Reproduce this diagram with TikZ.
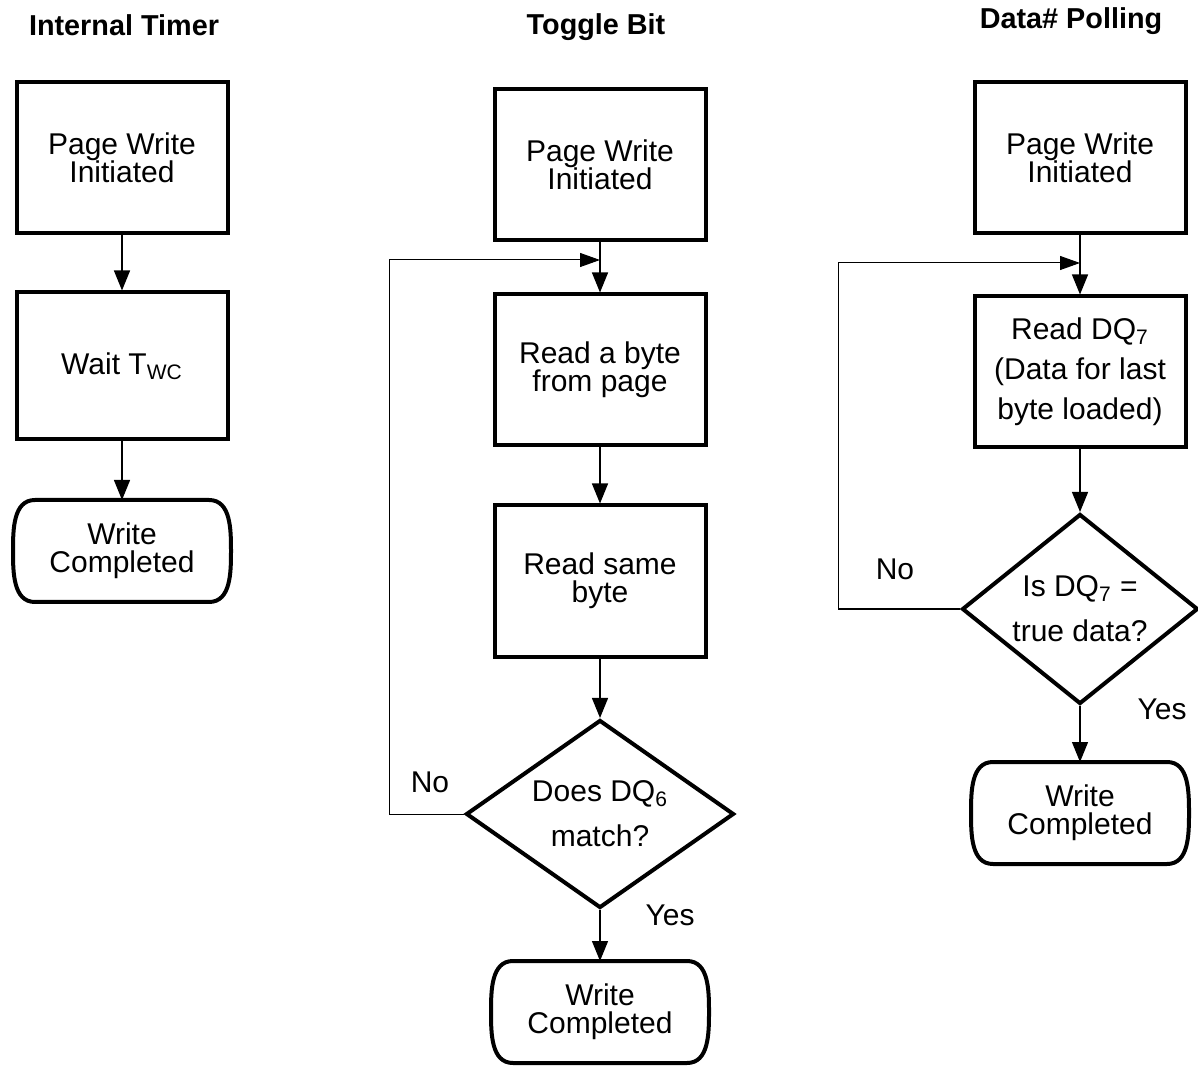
\documentclass[tikz,border=0pt]{standalone}
\usepackage{fontspec}
\setmainfont{Liberation Sans}
\usetikzlibrary{arrows.meta,shapes.geometric}
\newcommand{\BodyFont}[0]{\fontsize{15}{14}\selectfont}
\newcommand{\HeadFont}[0]{\fontsize{14.4}{16}\selectfont\bfseries}

\tikzset{
  stepbox/.style={draw, line width=2pt, minimum width=105.5pt, minimum height=75.5pt,
    align=center, font=\BodyFont},
  endbox/.style={minimum width=107pt, minimum height=49pt, line width=2pt,
    align=center, font=\BodyFont},
  testbox/.style={draw, diamond, line width=2pt, inner sep=0pt, align=center,
    font=\fontsize{15}{22.5}\selectfont},
  flow/.style={-{Triangle[length=10pt,width=8pt]}, line width=0.65pt},
  back/.style={-{Triangle[length=10pt,width=7pt]}, line width=0.5pt},
  head/.style={font=\HeadFont},
  note/.style={font=\BodyFont},
}

\begin{document}
\begin{tikzpicture}[x=0.5pt, y=-0.5pt]
  \useasboundingbox (0,0) rectangle (1198,1068);

  \newcommand\Done[2]{%
    \node[endbox] (#1) at #2 {Write\\Completed};
    \draw[line width=2pt, line join=round]
      ([xshift=11pt]#1.north west) -- ([xshift=-11pt]#1.north east)
      to[out=0, in=90] (#1.east)
      to[out=-90, in=0] ([xshift=-11pt]#1.south east)
      -- ([xshift=11pt]#1.south west)
      to[out=180, in=-90] (#1.west)
      to[out=90, in=180] ([xshift=11pt]#1.north west) -- cycle;}

  %% internal timer
  \node[head] (title1) at (124,25) {Internal Timer};
  \node[stepbox] (init1) at (122,158) {Page Write\\Initiated};
  \node[stepbox, minimum height=73.5pt] (wait1) at (122,366) {Wait T\textsubscript{WC}};
  \Done{done1}{(122,551)}

  \draw[flow] (init1) -- (wait1);
  \draw[flow] (wait1) -- (done1);

  %% toggle bit
  \node[head] (title2) at (596,27) {Toggle Bit};
  \node[stepbox] (init2) at (600,165) {Page Write\\Initiated};
  \node[stepbox] (read2) at (600,370) {Read a byte\\from page};
  \node[stepbox] (same2) at (600,581) {Read same\\byte};
  \node[testbox, aspect=1.42, minimum width=134pt, minimum height=94pt]
    (does2) at (600,814) {Does DQ\textsubscript{6}\\match?};
  \Done{done2}{(600,1012)}
  \node[note] (no2) at (430,782) {No};
  \node[note] (yes2) at (670,915) {Yes};
  \coordinate (back2) at (600,260);

  \draw[flow] (init2) -- (read2);
  \draw[flow] (read2) -- (same2);
  \draw[flow] (same2) -- (does2);
  \draw[flow] (does2) -- (done2);
  \draw[back] (does2.west) -- ++(-75,0) |- (back2); % no -> read again

  %% data# polling
  \node[head] (title3) at (1071,21) {Data\# Polling};
  \node[stepbox] (init3) at (1080,158) {Page Write\\Initiated};
  \node[stepbox, font=\fontsize{15}{20}\selectfont]
    (read3) at (1080,372) {Read DQ\textsubscript{7}\\(Data for last\\byte loaded)};
  \node[testbox, aspect=1.24, minimum width=118pt, minimum height=95pt]
    (is3) at (1080,609) {Is DQ\textsubscript{7} =\\true data?};
  \Done{done3}{(1080,813)}
  \node[note] (no3) at (895,569) {No};
  \node[note] (yes3) at (1162,709) {Yes};
  \coordinate (back3) at (1080,263);

  \draw[flow] (init3) -- (read3);
  \draw[flow] (read3) -- (is3);
  \draw[flow] (is3) -- (done3);
  \draw[back] (is3.west) -- ++(-122,0) |- (back3); % no -> poll again

\end{tikzpicture}
\end{document}
